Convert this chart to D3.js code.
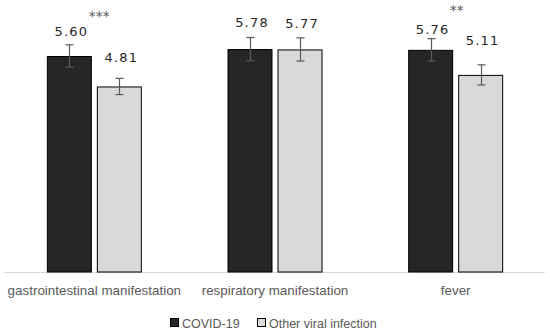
<!DOCTYPE html>
<html>
<head>
<meta charset="utf-8">
<script src="https://cdn.jsdelivr.net/npm/d3@7/dist/d3.min.js"></script>
<style>
  html, body { margin: 0; padding: 0; background: #fff; }
  svg { display: block; }
</style>
</head>
<body>
<svg id="chart" width="550" height="336"></svg>
<script>
const categories = ["gastrointestinal manifestation", "respiratory manifestation", "fever"];
const seriesNames = ["COVID-19", "Other viral infection"];
const covidValues = [5.60, 5.78, 5.76];
const otherValues = [4.81, 5.77, 5.11];
const covidErrors = [0.29, 0.30, 0.29];
const otherErrors = [0.21, 0.30, 0.26];
const significance = ["***", "", "**"];

const svg = d3.select("#chart");
const baseline = 272;

const x = d3.scaleBand().domain(categories).range([4, 546]).paddingInner(0).paddingOuter(0);
const y = d3.scaleLinear().domain([0, 7]).range([baseline, 2]);
const barW = 45, gap = 5;
const colors = ["#262626", "#d9d9d9"];

const rows = [];
categories.forEach((c, i) => {
  rows.push({cat: c, s: 0, v: covidValues[i], e: covidErrors[i], i});
  rows.push({cat: c, s: 1, v: otherValues[i], e: otherErrors[i], i});
});
const bx = d => x(d.cat) + x.bandwidth() / 2 + (d.s === 0 ? -gap / 2 - barW : gap / 2);

// axis line
svg.append("line")
  .attr("x1", 4).attr("x2", 545)
  .attr("y1", baseline + 0.5).attr("y2", baseline + 0.5)
  .attr("stroke", "#d9d9d9").attr("stroke-width", 1);

// bars
svg.append("g").selectAll("rect").data(rows).join("rect")
  .attr("x", d => bx(d) + 0.5)
  .attr("y", d => y(d.v) + 0.5)
  .attr("width", barW - 1)
  .attr("height", d => baseline - y(d.v) - 0.5)
  .attr("fill", d => colors[d.s])
  .attr("stroke", "#000")
  .attr("stroke-width", 1);

// error bars
const eg = svg.append("g").attr("stroke", "#595959").attr("stroke-width", 1.2);
rows.forEach(d => {
  const cx = Math.round(bx(d) + barW / 2) + 0.5;
  const y1 = y(d.v + d.e), y2 = y(d.v - d.e);
  eg.append("line").attr("x1", cx).attr("x2", cx).attr("y1", y1).attr("y2", y2);
  eg.append("line").attr("x1", cx - 4).attr("x2", cx + 4).attr("y1", y1).attr("y2", y1);
  eg.append("line").attr("x1", cx - 4).attr("x2", cx + 4).attr("y1", y2).attr("y2", y2);
});

// value labels (layout offsets above error-bar top)
const labelDy = [-9, -16, -10, -10, -5, -20];
svg.append("g").selectAll("text").data(rows).join("text")
  .attr("x", d => bx(d) + barW / 2 + 2)
  .attr("y", (d, k) => y(d.v + d.e) + labelDy[k])
  .attr("text-anchor", "middle")
  .attr("font-family", "DejaVu Sans, sans-serif")
  .attr("font-size", 13)
  .attr("letter-spacing", 1.2)
  .attr("fill", "#262626")
  .text(d => d.v.toFixed(2));

// significance stars
const starY = [21, 0, 15];
const starDx = [5, 0, 1];
svg.append("g").selectAll("text").data(categories).join("text")
  .attr("x", (c, i) => x(c) + x.bandwidth() / 2 + starDx[i])
  .attr("y", (c, i) => starY[i])
  .attr("text-anchor", "middle")
  .attr("font-family", "DejaVu Sans, sans-serif")
  .attr("font-size", 14)
  .attr("fill", "#595959")
  .text((c, i) => significance[i]);

// category labels
svg.append("g").selectAll("text").data(categories).join("text")
  .attr("x", c => x(c) + x.bandwidth() / 2)
  .attr("y", 295)
  .attr("text-anchor", "middle")
  .attr("font-family", "Liberation Sans, Arial, sans-serif")
  .attr("font-size", 13.4)
  .attr("fill", "#595959")
  .text(c => c);

// legend
const legend = svg.append("g");
const legendItems = [
  {name: seriesNames[0], sx: 170, tx: 182},
  {name: seriesNames[1], sx: 257, tx: 269}
];
legendItems.forEach((it, i) => {
  legend.append("rect")
    .attr("x", it.sx + 0.5).attr("y", 318.5)
    .attr("width", 8).attr("height", 8)
    .attr("fill", colors[i]).attr("stroke", "#000").attr("stroke-width", 1);
  legend.append("text")
    .attr("x", it.tx).attr("y", 327.5)
    .attr("font-family", "Liberation Sans, Arial, sans-serif")
    .attr("font-size", 12.5)
    .attr("fill", "#595959")
    .text(it.name);
});
</script>
</body>
</html>
